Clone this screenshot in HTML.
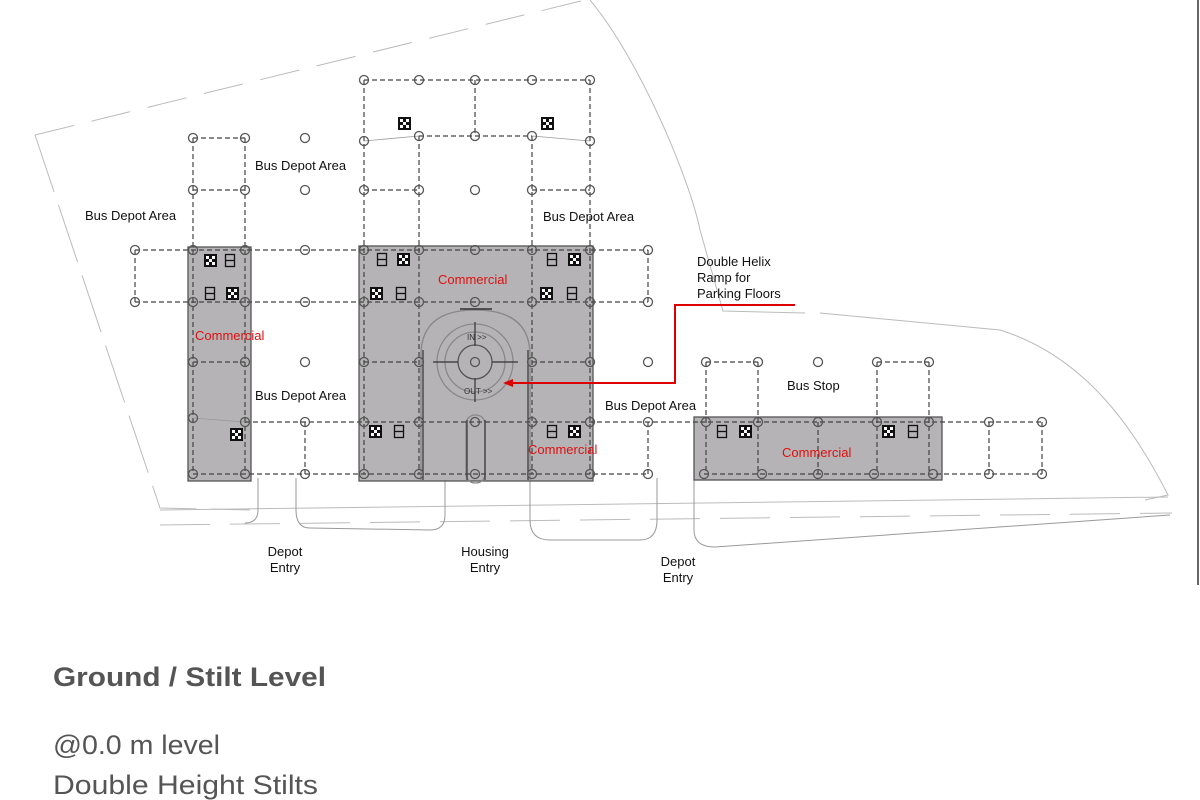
<!DOCTYPE html>
<html><head><meta charset="utf-8"><style>
html,body{margin:0;padding:0;background:#fff;}
svg{display:block;}
text{font-family:"Liberation Sans",Arial,sans-serif;}
</style></head><body>
<svg width="1200" height="800" viewBox="0 0 1200 800" xmlns="http://www.w3.org/2000/svg">
<defs>
<g id="ck"><rect x="0" y="0" width="13" height="13" fill="#111"/><rect x="2" y="2" width="3" height="3" fill="#fff"/><rect x="8" y="2" width="3" height="3" fill="#fff"/><rect x="5" y="5" width="3" height="3" fill="#fff"/><rect x="2" y="8" width="3" height="3" fill="#fff"/><rect x="8" y="8" width="3" height="3" fill="#fff"/></g>
<g id="bx"><rect x="0.5" y="0.5" width="9" height="12" fill="none" stroke="#111" stroke-width="1.3"/><line x1="0.5" y1="6.5" x2="9.5" y2="6.5" stroke="#111" stroke-width="1.3"/></g>
</defs>
<!-- site boundary -->
<g fill="none" stroke="#bbb" stroke-width="1">
<path d="M35,135 L585,0" stroke-dasharray="40,18"/>
<path d="M35,135 L160,508 L250,510" stroke-dasharray="60,14"/>
<path d="M590,0 C640,60 690,180 700,230 L723,311 L805,313 M820,313 L1000,330 C1080,355 1130,420 1168,495 L1145,500" />
<path d="M160,525 L1172,513" stroke-dasharray="50,20"/>
<path d="M160,510 L1168,497"/>
<path d="M258,478 V510 Q258,523 245,523 M296,478 V510 Q296,528 310,528 L430,530 Q445,530 445,515 V478 M530,478 V520 Q530,540 550,540 L640,540 Q657,540 657,520 V478 M694,480 V530 Q694,547 715,547 L1170,515" stroke="#999"/>
</g>
<line x1="1198" y1="0" x2="1198" y2="585" stroke="#333" stroke-width="1.5"/>
<!-- gray blocks -->
<g fill="#b5b3b5" stroke="#555" stroke-width="1.3">
<rect x="188" y="247" width="63" height="234"/>
<rect x="359" y="246" width="234" height="235"/>
<rect x="694" y="417" width="248" height="63"/>
</g>
<!-- helix -->
<g fill="none" stroke="#888" stroke-width="1.3">
<path d="M421,480 V355 Q421,310 475,310 Q530,310 530,355 V480"/>
<circle cx="475" cy="362" r="38"/>
<circle cx="475" cy="362" r="30"/>
<circle cx="475" cy="362" r="17" stroke="#555"/>
<rect x="466" y="415" width="19" height="68" rx="9"/>
</g>
<g stroke="#333" stroke-width="1.2">
<line x1="423" y1="350" x2="423" y2="480"/><line x1="528" y1="350" x2="528" y2="480"/>
<line x1="467" y1="420" x2="467" y2="480"/><line x1="485" y1="420" x2="485" y2="480"/>
<line x1="460" y1="309" x2="492" y2="309" stroke-width="1.5"/>
<line x1="433" y1="362" x2="458" y2="362"/><line x1="492" y1="362" x2="518" y2="362"/>
<line x1="475" y1="322" x2="475" y2="346"/><line x1="475" y1="378" x2="475" y2="402"/>
</g>
<text x="467" y="340" font-size="8" fill="#333">IN &gt;&gt;</text>
<text x="464" y="394" font-size="8" fill="#333">OUT &gt;&gt;</text>
<!-- dashed grid -->
<g stroke="#444" stroke-width="1.2" stroke-dasharray="5,3" fill="none">
<path d="M364,80H590 M193,138H245 M419,136H532 M193,190H245 M364,190H419 M532,190H590 M135,250H648 M135,302H648 M193,362H245 M364,362H419 M532,362H590 M245,422H700 M193,474H648 M706,362H758 M877,362H929 M700,422H1042 M704,474H1042"/>
<path d="M135,250V302 M193,138V474 M245,138V474 M364,80V474 M419,136V474 M475,80V136 M532,136V474 M590,80V474 M648,250V302 M305,422V474 M648,422V474 M706,362V474 M758,362V474 M818,422V474 M877,362V474 M929,362V474 M989,422V474 M1042,422V474"/>
</g>
<g stroke="#999" stroke-width="0.8" fill="none"><path d="M364,141 L419,136 M532,136 L590,141 M193,418 L245,422"/></g>
<!-- circles -->
<g fill="none" stroke="#555" stroke-width="1.3">
<circle cx="364" cy="80" r="4.5"/><circle cx="419" cy="80" r="4.5"/><circle cx="475" cy="80" r="4.5"/><circle cx="532" cy="80" r="4.5"/><circle cx="590" cy="80" r="4.5"/>
<circle cx="364" cy="141" r="4.5"/><circle cx="419" cy="136" r="4.5"/><circle cx="475" cy="136" r="4.5"/><circle cx="532" cy="136" r="4.5"/><circle cx="590" cy="141" r="4.5"/>
<circle cx="364" cy="190" r="4.5"/><circle cx="419" cy="190" r="4.5"/><circle cx="475" cy="190" r="4.5"/><circle cx="532" cy="190" r="4.5"/><circle cx="590" cy="190" r="4.5"/>
<circle cx="193" cy="138" r="4.5"/><circle cx="245" cy="138" r="4.5"/><circle cx="305" cy="138" r="4.5"/>
<circle cx="193" cy="190" r="4.5"/><circle cx="245" cy="190" r="4.5"/><circle cx="305" cy="190" r="4.5"/>
<circle cx="135" cy="250" r="4.5"/><circle cx="193" cy="250" r="4.5"/><circle cx="245" cy="250" r="4.5"/><circle cx="305" cy="250" r="4.5"/><circle cx="364" cy="250" r="4.5"/><circle cx="419" cy="250" r="4.5"/><circle cx="475" cy="250" r="4.5"/><circle cx="532" cy="250" r="4.5"/><circle cx="590" cy="250" r="4.5"/><circle cx="648" cy="250" r="4.5"/>
<circle cx="135" cy="302" r="4.5"/><circle cx="193" cy="302" r="4.5"/><circle cx="245" cy="302" r="4.5"/><circle cx="305" cy="302" r="4.5"/><circle cx="364" cy="302" r="4.5"/><circle cx="419" cy="302" r="4.5"/><circle cx="475" cy="302" r="4.5"/><circle cx="532" cy="302" r="4.5"/><circle cx="590" cy="302" r="4.5"/><circle cx="648" cy="302" r="4.5"/>
<circle cx="193" cy="362" r="4.5"/><circle cx="245" cy="362" r="4.5"/><circle cx="305" cy="362" r="4.5"/><circle cx="364" cy="362" r="4.5"/><circle cx="419" cy="362" r="4.5"/><circle cx="475" cy="362" r="4.5"/><circle cx="532" cy="362" r="4.5"/><circle cx="590" cy="362" r="4.5"/><circle cx="648" cy="362" r="4.5"/>
<circle cx="193" cy="418" r="4.5"/><circle cx="245" cy="422" r="4.5"/><circle cx="305" cy="422" r="4.5"/><circle cx="364" cy="422" r="4.5"/><circle cx="419" cy="422" r="4.5"/><circle cx="475" cy="422" r="4.5"/><circle cx="532" cy="422" r="4.5"/><circle cx="590" cy="422" r="4.5"/><circle cx="648" cy="422" r="4.5"/>
<circle cx="193" cy="474" r="4.5"/><circle cx="245" cy="474" r="4.5"/><circle cx="305" cy="474" r="4.5"/><circle cx="364" cy="474" r="4.5"/><circle cx="419" cy="474" r="4.5"/><circle cx="475" cy="474" r="4.5"/><circle cx="532" cy="474" r="4.5"/><circle cx="590" cy="474" r="4.5"/><circle cx="648" cy="474" r="4.5"/>
<circle cx="706" cy="362" r="4.5"/><circle cx="758" cy="362" r="4.5"/><circle cx="818" cy="362" r="4.5"/><circle cx="877" cy="362" r="4.5"/><circle cx="929" cy="362" r="4.5"/>
<circle cx="706" cy="422" r="4.5"/><circle cx="758" cy="422" r="4.5"/><circle cx="818" cy="422" r="4.5"/><circle cx="877" cy="422" r="4.5"/><circle cx="929" cy="422" r="4.5"/><circle cx="989" cy="422" r="4.5"/><circle cx="1042" cy="422" r="4.5"/>
<circle cx="704" cy="474" r="4.5"/><circle cx="762" cy="474" r="4.5"/><circle cx="818" cy="474" r="4.5"/><circle cx="874" cy="474" r="4.5"/><circle cx="933" cy="474" r="4.5"/><circle cx="989" cy="474" r="4.5"/><circle cx="1042" cy="474" r="4.5"/>
</g>
<!-- icons -->
<use href="#ck" x="398" y="117"/><use href="#ck" x="541" y="117"/>
<use href="#ck" x="204" y="254"/><use href="#bx" x="225" y="254"/>
<use href="#bx" x="205" y="287"/><use href="#ck" x="226" y="287"/>
<use href="#ck" x="230" y="428"/>
<use href="#bx" x="377" y="253"/><use href="#ck" x="397" y="253"/>
<use href="#ck" x="370" y="287"/><use href="#bx" x="396" y="287"/>
<use href="#bx" x="547" y="253"/><use href="#ck" x="568" y="253"/>
<use href="#ck" x="540" y="287"/><use href="#bx" x="567" y="287"/>
<use href="#ck" x="369" y="425"/><use href="#bx" x="394" y="425"/>
<use href="#bx" x="547" y="425"/><use href="#ck" x="568" y="425"/>
<use href="#bx" x="717" y="425"/><use href="#ck" x="739" y="425"/>
<use href="#ck" x="882" y="425"/><use href="#bx" x="908" y="425"/>
<!-- red leader -->
<path d="M795,305 H675 V383 H512" fill="none" stroke="#d00" stroke-width="2"/>
<path d="M503,383 L513,379 L513,387 Z" fill="#d00"/>
<!-- labels -->
<g font-size="13" fill="#111">
<text x="255" y="170">Bus Depot Area</text>
<text x="85" y="220">Bus Depot Area</text>
<text x="543" y="221">Bus Depot Area</text>
<text x="255" y="400">Bus Depot Area</text>
<text x="605" y="410">Bus Depot Area</text>
<text x="787" y="390">Bus Stop</text>
<text x="697" y="266">Double Helix</text>
<text x="697" y="282">Ramp for</text>
<text x="697" y="298">Parking Floors</text>
<text x="285" y="556" text-anchor="middle">Depot</text>
<text x="285" y="572" text-anchor="middle">Entry</text>
<text x="485" y="556" text-anchor="middle">Housing</text>
<text x="485" y="572" text-anchor="middle">Entry</text>
<text x="678" y="566" text-anchor="middle">Depot</text>
<text x="678" y="582" text-anchor="middle">Entry</text>
</g>
<g font-size="13" fill="#e01010">
<text x="195" y="340">Commercial</text>
<text x="438" y="284">Commercial</text>
<text x="528" y="454">Commercial</text>
<text x="782" y="457">Commercial</text>
</g>
<text x="53" y="686" font-size="27" font-weight="bold" fill="#555" textLength="273" lengthAdjust="spacingAndGlyphs">Ground / Stilt Level</text>
<text x="53" y="754" font-size="27" fill="#555" textLength="167" lengthAdjust="spacingAndGlyphs">@0.0 m level</text>
<text x="53" y="794" font-size="27" fill="#555" textLength="265" lengthAdjust="spacingAndGlyphs">Double Height Stilts</text>
</svg>
</body></html>
